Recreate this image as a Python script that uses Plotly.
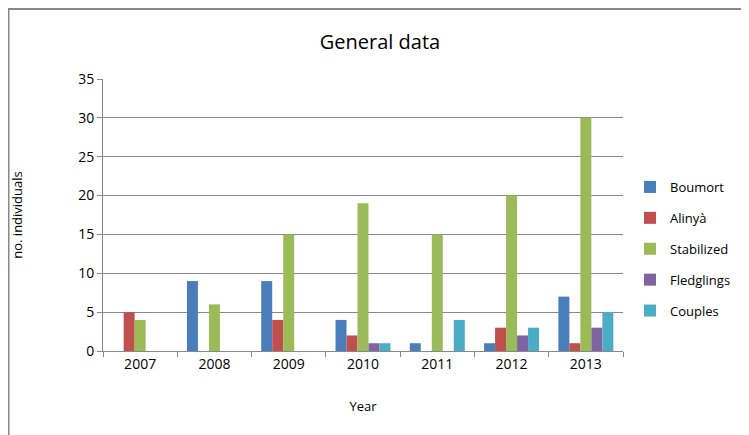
import plotly.graph_objects as go

years = ["2007", "2008", "2009", "2010", "2011", "2012", "2013"]
boumort = [0, 9, 9, 4, 1, 1, 7]
alinya = [5, 0, 4, 2, 0, 3, 1]
stabilized = [4, 6, 15, 19, 15, 20, 30]
fledglings = [0, 0, 0, 1, 0, 2, 3]
couples = [0, 0, 0, 1, 4, 3, 5]

series = [
    ("Boumort", boumort, "#4A7EBB"),
    ("Alinyà", alinya, "#C0504D"),
    ("Stabilized", stabilized, "#9BBB59"),
    ("Fledglings", fledglings, "#8064A2"),
    ("Couples", couples, "#4BACC6"),
]

fig = go.Figure()
for name, vals, col in series:
    fig.add_trace(go.Bar(x=years, y=vals, name=name, marker_color=col,
                         marker_line_width=0, legendgroup=name))

grid = "#888888"
fig.update_layout(
    width=733, height=435,
    margin=dict(l=95, r=118, t=71, b=92),
    plot_bgcolor="white", paper_bgcolor="white",
    font=dict(family="Open Sans", size=13, color="#000000"),
    barmode="group", bargap=0.26, bargroupgap=0,
    title=dict(text="General data", x=372/733, xref="container", xanchor="center",
               y=1 - 34/435, yref="container", yanchor="middle",
               font=dict(size=20, color="#000000")),
    legend=dict(x=622/733, y=1 - 164/435, xref="container", yref="container",
                xanchor="left", yanchor="top",
                tracegroupgap=11, traceorder="grouped", itemwidth=30,
                font=dict(size=13)),
    showlegend=True,
)
fig.update_xaxes(type="category", tickson="boundaries", ticks="outside", ticklen=5,
                 tickcolor=grid, showline=True, linecolor=grid, linewidth=1,
                 showgrid=False, tickfont=dict(size=14), automargin=False,
                 title=dict(text="Year", font=dict(size=13), standoff=30))
fig.update_yaxes(range=[0, 35], dtick=5, ticks="outside", ticklen=5, tickcolor=grid,
                 showline=True, linecolor=grid, linewidth=1, gridcolor=grid, gridwidth=1,
                 zeroline=False, tickfont=dict(size=14), automargin=False,
                 title=dict(text="no. individuals", font=dict(size=13), standoff=54))

fig.add_shape(type="rect", xref="paper", yref="paper",
              x0=-94.5 / 520, x1=1.5, y0=-0.5, y1=342 / 272,
              line=dict(color="#888888", width=2), fillcolor="rgba(0,0,0,0)")

fig.write_html("out.html")
